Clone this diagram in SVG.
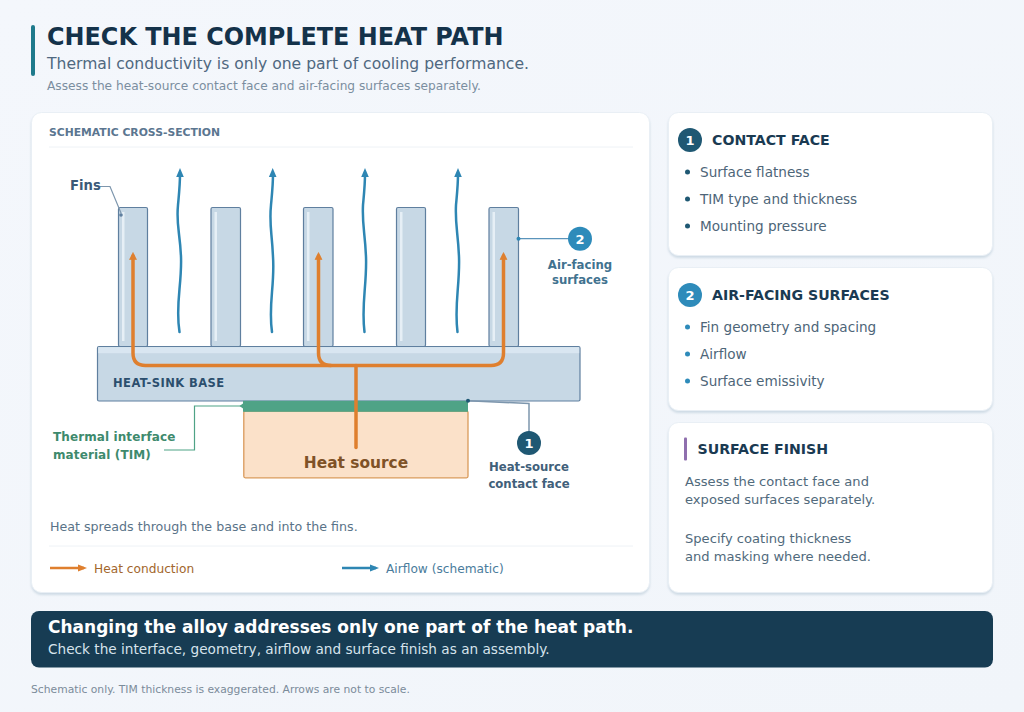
<svg xmlns="http://www.w3.org/2000/svg" width="1024" height="712" viewBox="0 0 1024 712">
<defs>
<linearGradient id="bg" x1="0" y1="0" x2="1" y2="1"><stop offset="0" stop-color="#f4f7fc"/><stop offset="1" stop-color="#f1f5fa"/></linearGradient>
<filter id="sh" x="-5%" y="-5%" width="110%" height="110%"><feDropShadow dx="0" dy="2" stdDeviation="1.2" flood-color="#c3d2de" flood-opacity="0.75"/></filter>
</defs>
<style>
text{font-family:"DejaVu Sans","Liberation Sans",sans-serif}
.card{fill:#fff;stroke:#e9eff5;stroke-width:1;filter:url(#sh)}
.fin{fill:#c7d8e5;stroke:#5f7f9f;stroke-width:1.2}
.hl{fill:#e6eff6}
.heat{fill:none;stroke:#df7f2e;stroke-width:3.500;stroke-linecap:round;stroke-linejoin:round}
.air{fill:none;stroke:#2e86b3;stroke-width:2.500;stroke-linecap:round}
.lead{fill:none;stroke:#7d96ad;stroke-width:1.2}
.h2{font-size:14.150px;font-weight:700;fill:#1a3a52}
.li{font-size:13.600px;fill:#4d6578}
.p{font-size:13.100px;fill:#516a7c}
.num{font-size:13px;font-weight:700;fill:#fff;text-anchor:middle}
.cap{font-size:11.700px;font-weight:700;text-anchor:middle}
.rule{stroke:#eef2f6;stroke-width:1}
</style>
<rect width="1024" height="712" fill="url(#bg)"/>
<g id="header">
<rect x="31" y="25" width="4" height="51" rx="2" fill="#1f7a8c"/>
<text x="47" y="45" font-size="23.900" font-weight="700" fill="#14324a">CHECK THE COMPLETE HEAT PATH</text>
<text x="47" y="69" font-size="15.600" fill="#4f6880">Thermal conductivity is only one part of cooling performance.</text>
<text x="47" y="90" font-size="12.200" fill="#7b8ea0">Assess the heat-source contact face and air-facing surfaces separately.</text>
</g>
<g id="panel">
<rect class="card" x="31.500" y="112.500" width="618" height="480" rx="10"/>
<text x="49" y="135.500" font-size="10.800" font-weight="700" fill="#5b7690">SCHEMATIC CROSS-SECTION</text>
<line class="rule" x1="49" y1="147" x2="633" y2="147"/>
<line class="rule" x1="49" y1="546" x2="633" y2="546"/>
</g>
<g id="fins">
<rect class="fin" x="118.500" y="207.500" width="29" height="139" rx="1.500"/><rect class="hl" x="122" y="212" width="2.500" height="129"/>
<rect class="fin" x="211" y="207.500" width="29.500" height="139" rx="1.500"/><rect class="hl" x="214.500" y="212" width="2.500" height="129"/>
<rect class="fin" x="303.500" y="207.500" width="29.500" height="139" rx="1.500"/><rect class="hl" x="307" y="212" width="2.500" height="129"/>
<rect class="fin" x="396.500" y="207.500" width="29" height="139" rx="1.500"/><rect class="hl" x="400" y="212" width="2.500" height="129"/>
<rect class="fin" x="489" y="207.500" width="29.500" height="139" rx="1.500"/><rect class="hl" x="492.500" y="212" width="2.500" height="129"/>
</g>
<g id="heat-sink-base">
<rect x="97.500" y="346.500" width="482.500" height="54.500" rx="1.500" fill="#c7d8e5" stroke="#5f7f9f" stroke-width="1.200"/>
<rect x="98.200" y="347.200" width="481" height="6" fill="#d9e6f1"/>
<text x="113" y="387" font-size="11.500" font-weight="700" fill="#2c4f6e" letter-spacing=".45">HEAT-SINK BASE</text>
</g>
<g id="heat-source">
<rect x="243.800" y="411" width="224.200" height="66.800" rx="1.500" fill="#fbe1c9" stroke="#d99a5b" stroke-width="1.300"/>
<text x="356" y="468" font-size="15.400" font-weight="700" fill="#7f5227" text-anchor="middle">Heat source</text>
</g>
<g id="tim">
<rect x="243" y="400.800" width="225" height="11" fill="#4fa386"/>
</g>
<g id="connectors">
<path class="heat" d="M356 447.500V365.500"/>
<path class="heat" d="M133 256V353Q133 365.500 145.500 365.500H491Q503.500 365.500 503.500 353V256"/>
<path class="heat" d="M318.500 256V353Q318.500 365.500 331 365.500"/>
<path d="M133 252.500l-3.500 7l7 0Z M318.500 252.500l-3.500 7l7 0Z M503.500 252.500l-3.500 7l7 0Z" fill="#df7f2e" stroke="#df7f2e" stroke-width=".6"/>
<path class="air" d="M179.500 332C175 305 182 285 181 257C180 232 176 225 178 205C179 194 180 185 180 174"/>
<path class="air" d="M272 332C268 305 275 285 273 257C272 232 269 225 271 205C272 194 273 185 273 174"/>
<path class="air" d="M364.500 332C361 305 367 285 366 257C365 232 362 225 363 205C364 194 365 185 365 174"/>
<path class="air" d="M457.500 332C454 305 460 285 459 257C458 232 455 225 456 205C457 194 458 185 458 174"/>
<path d="M180 168l-3.800 9h7.600Z M272.700 168l-3.800 9h7.600Z M365 168l-3.800 9h7.600Z M458 168l-3.800 9h7.600Z" fill="#2e86b3"/>
<path class="lead" d="M100 186.500H110L121 213"/><circle cx="121" cy="215" r="1.800" fill="#5f7f9f"/>
<path class="lead" style="stroke:#5a94bb" d="M518.500 238.700H569"/><circle cx="518.500" cy="238.700" r="2" fill="#2e86b3"/>
<path class="lead" style="stroke:#4fa386" d="M243 406H194.500V450H164"/><path d="M243 403.500l-3.500 2.500l3.500 2.500Z" fill="#4fa386"/>
<path class="lead" style="stroke-width:1.500" d="M468 400.800L529 403.500V432"/><circle cx="468" cy="400.800" r="2" fill="#1f5873"/>
</g>
<g id="callout-fins"><text x="70" y="190" font-size="13.200" font-weight="700" fill="#3a5a78">Fins</text></g>
<g id="callout-air">
<circle cx="580" cy="238.700" r="12" fill="#2e8bba"/><text class="num" x="580" y="243.500">2</text>
<text class="cap" x="580" y="268.500" fill="#41728f">Air-facing</text><text class="cap" x="580" y="284" fill="#41728f">surfaces</text>
</g>
<g id="callout-contact">
<circle cx="529" cy="443" r="12" fill="#1f5873"/><text class="num" x="529" y="447.800">1</text>
<text class="cap" x="529" y="471" fill="#41607a">Heat-source</text><text class="cap" x="529" y="487.500" fill="#41607a">contact face</text>
</g>
<g id="callout-tim">
<text x="53" y="440.500" font-size="12" font-weight="700" fill="#3e8a6d" letter-spacing=".1">Thermal interface</text>
<text x="53" y="458.500" font-size="12" font-weight="700" fill="#3e8a6d" letter-spacing=".1">material (TIM)</text>
</g>
<text x="50" y="531" font-size="12.650" fill="#5a7388">Heat spreads through the base and into the fins.</text>
<g id="legend">
<path d="M50 568H84" stroke="#df7f2e" stroke-width="2.500" fill="none"/><path d="M78 564.500L87 568L78 571.500Z" fill="#df7f2e"/>
<text x="94" y="572.500" font-size="12.200" fill="#a2662c">Heat conduction</text>
<path d="M342 568H376" stroke="#2e86b3" stroke-width="2.500" fill="none"/><path d="M370 564.500L379 568L370 571.500Z" fill="#2e86b3"/>
<text x="386" y="572.500" font-size="12.200" fill="#4a7c9c">Airflow (schematic)</text>
</g>
<g id="card-contact">
<rect class="card" x="668.500" y="112.500" width="324" height="143" rx="10"/>
<circle cx="690" cy="140" r="12" fill="#1f5873"/><text class="num" x="690" y="144.800">1</text>
<text class="h2" x="712" y="144.800">CONTACT FACE</text>
<g fill="#1f5873"><circle cx="687.500" cy="172" r="2.500"/><circle cx="687.500" cy="199" r="2.500"/><circle cx="687.500" cy="226" r="2.500"/></g>
<text class="li" x="700" y="176.500">Surface flatness</text><text class="li" x="700" y="203.500">TIM type and thickness</text><text class="li" x="700" y="230.500">Mounting pressure</text>
</g>
<g id="card-air">
<rect class="card" x="668.500" y="267.500" width="324" height="143" rx="10"/>
<circle cx="690" cy="295" r="12" fill="#2e8bba"/><text class="num" x="690" y="299.800">2</text>
<text class="h2" x="712" y="299.800">AIR-FACING SURFACES</text>
<g fill="#2e8bba"><circle cx="687.500" cy="327" r="2.500"/><circle cx="687.500" cy="354" r="2.500"/><circle cx="687.500" cy="381" r="2.500"/></g>
<text class="li" x="700" y="331.500">Fin geometry and spacing</text><text class="li" x="700" y="358.500">Airflow</text><text class="li" x="700" y="385.500">Surface emissivity</text>
</g>
<g id="card-finish">
<rect class="card" x="668.500" y="422.500" width="324" height="170" rx="10"/>
<rect x="684" y="437.500" width="3" height="23" rx="1" fill="#8f6fae"/>
<text class="h2" x="697.500" y="454">SURFACE FINISH</text>
<text class="p" x="685" y="485.500">Assess the contact face and</text><text class="p" x="685" y="504">exposed surfaces separately.</text>
<text class="p" x="685" y="542.500">Specify coating thickness</text><text class="p" x="685" y="561">and masking where needed.</text>
</g>
<g id="banner">
<rect x="31" y="611" width="962" height="56.500" rx="8" fill="#173c53"/>
<text x="48" y="633" font-size="17" font-weight="700" fill="#fff">Changing the alloy addresses only one part of the heat path.</text>
<text x="48" y="654" font-size="13.650" fill="#d6e3ec">Check the interface, geometry, airflow and surface finish as an assembly.</text>
</g>
<text x="31" y="693" font-size="10.750" fill="#7b8b9a">Schematic only. TIM thickness is exaggerated. Arrows are not to scale.</text>
</svg>
